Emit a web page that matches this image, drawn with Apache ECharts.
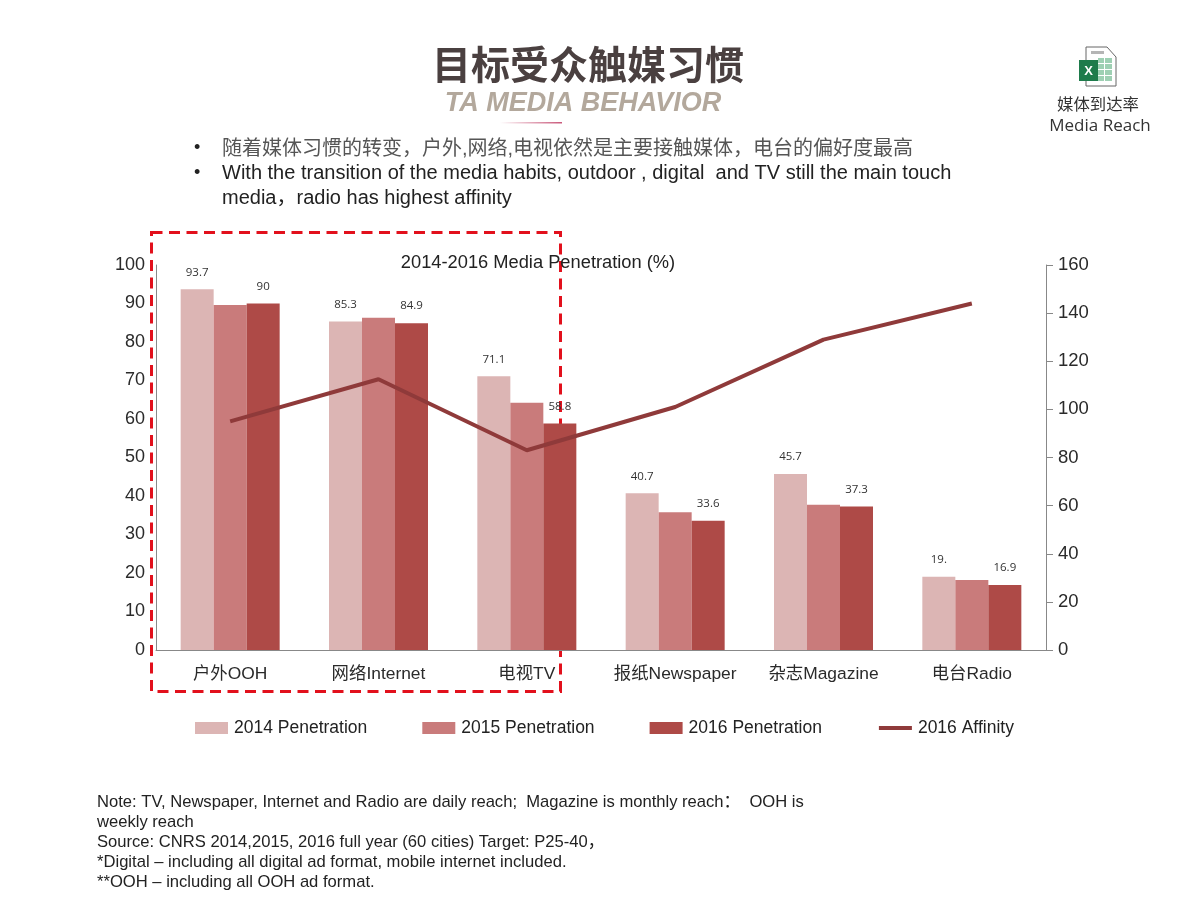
<!DOCTYPE html>
<html>
<head>
<meta charset="utf-8">
<title>TA Media Behavior</title>
<style>
  html, body { margin: 0; padding: 0; background: #fff; }
  #main { width: 1200px; height: 900px; }
</style>
<script src="https://cdn.jsdelivr.net/npm/echarts@6/dist/echarts.min.js"></script>
</head>
<body>
<div id="main"></div>
<script>
var categories = ['户外OOH', '网络Internet', '电视TV', '报纸Newspaper', '杂志Magazine', '电台Radio'];
var penetration2014 = [93.7, 85.3, 71.1, 40.7, 45.7, 19];
var penetration2015 = [89.6, 86.3, 64.2, 35.8, 37.7, 18.2];
var penetration2016 = [90, 84.9, 58.8, 33.6, 37.3, 16.9];
var affinity2016 = [95, 112.5, 83, 101, 129, 144];
var labels2014 = ['93.7', '85.3', '71.1', '40.7', '45.7', '19.'];
var labels2016 = ['90', '84.9', '58.8', '33.6', '37.3', '16.9'];

var noteLines = [
  'Note: TV, Newspaper, Internet and Radio are daily reach;  Magazine is monthly reach：  OOH is',
  'weekly reach',
  'Source: CNRS 2014,2015, 2016 full year (60 cities) Target: P25-40，',
  '*Digital – including all digital ad format, mobile internet included.',
  '**OOH – including all OOH ad format.'
];

var latin = '"Liberation Sans", Arial, sans-serif';
var mixed = '"Liberation Sans", "Noto Sans CJK SC", sans-serif';
var cjk = '"Noto Sans CJK SC", sans-serif';

function txt(x, y, text, font, size, color, extra) {
  var style = {
    x: x, y: y, text: text, fontFamily: font, fontSize: size, fill: color,
    textVerticalAlign: 'middle', textAlign: 'left'
  };
  for (var k in extra) style[k] = extra[k];
  return { type: 'text', z: 5, style: style };
}

// slide furniture around the chart
var graphics = [
  txt(588, 64, '目标受众触媒习惯', cjk, 39, '#4a4040', { textAlign: 'center', fontWeight: 'bold' }),
  txt(583, 104, 'TA MEDIA BEHAVIOR', latin, 27, '#b3a89c', { textAlign: 'center', fontWeight: 'bold', fontStyle: 'italic' }),
  {
    type: 'rect', z: 1, shape: { x: 500, y: 122, width: 62, height: 1.5 },
    style: { fill: new echarts.graphic.LinearGradient(0, 0, 1, 0, [
      { offset: 0, color: '#ffffff' }, { offset: 1, color: '#c9587a' }
    ]) }
  },
  txt(194, 148, '•', latin, 18, '#222'),
  txt(222, 149, '随着媒体习惯的转变，户外,网络,电视依然是主要接触媒体，电台的偏好度最高', mixed, 20, '#555'),
  txt(194, 173, '•', latin, 18, '#222'),
  txt(222, 173, 'With the transition of the media habits, outdoor , digital  and TV still the main touch', latin, 20, '#222'),
  txt(222, 198, 'media，radio has highest affinity', mixed, 20, '#222'),
  {
    type: 'rect', z: 0, shape: { x: 151.5, y: 232.5, width: 409, height: 459 },
    style: { fill: 'none', stroke: '#e2101c', lineWidth: 3, lineDash: [11, 6.5] }
  },
  // excel icon
  { type: 'polygon', z: 3, shape: { points: [[1086, 47], [1107, 47], [1116, 57], [1116, 86], [1086, 86]] }, style: { fill: '#fff', stroke: '#666', lineWidth: 1 } },
  { type: 'rect', z: 3, shape: { x: 1091, y: 51, width: 13, height: 3 }, style: { fill: '#b5b5b5' } },
  { type: 'rect', z: 3, shape: { x: 1098, y: 58, width: 14, height: 23 }, style: { fill: '#9ed0b3' } },
  { type: 'rect', z: 3, shape: { x: 1104, y: 58, width: 1, height: 23 }, style: { fill: '#fff' } },
  { type: 'rect', z: 3, shape: { x: 1098, y: 63, width: 14, height: 1 }, style: { fill: '#fff' } },
  { type: 'rect', z: 3, shape: { x: 1098, y: 69, width: 14, height: 1 }, style: { fill: '#fff' } },
  { type: 'rect', z: 3, shape: { x: 1098, y: 75, width: 14, height: 1 }, style: { fill: '#fff' } },
  { type: 'rect', z: 3, shape: { x: 1079, y: 60, width: 19, height: 21 }, style: { fill: '#1e7b4b' } },
  txt(1088.5, 71, 'X', latin, 13, '#fff', { textAlign: 'center', fontWeight: 'bold' }),
  txt(1098, 104, '媒体到达率', cjk, 16.4, '#333', { textAlign: 'center' }),
  txt(1100, 126, 'Media Reach', '"Open Sans", sans-serif', 17, '#333', { textAlign: 'center' })
];
noteLines.forEach(function (line, i) {
  graphics.push(txt(97, 802 + i * 20, line, mixed, 16.6, '#222'));
});

var chart = echarts.init(document.getElementById('main'));

function barLabel(list) {
  return {
    show: true, position: 'top', distance: 11,
    fontFamily: '"Open Sans", sans-serif', fontSize: 11.5, color: '#333',
    formatter: function (p) { return list[p.dataIndex]; }
  };
}

var option = {
  animation: false,
  backgroundColor: '#fff',
  title: {
    text: '2014-2016 Media Penetration (%)',
    left: 533, top: 249, textAlign: 'center',
    textStyle: { fontFamily: latin, fontSize: 18.3, fontWeight: 'normal', color: '#222' }
  },
  legend: {
    left: 190, top: 714, itemWidth: 33, itemHeight: 12, itemGap: 55,
    textStyle: { fontFamily: latin, fontSize: 17.5, color: '#222', padding: [0, 0, 0, 1] },
    data: [
      { name: '2014 Penetration', icon: 'rect' },
      { name: '2015 Penetration', icon: 'rect' },
      { name: '2016 Penetration', icon: 'rect' },
      { name: '2016 Affinity', itemStyle: { opacity: 0 }, lineStyle: { width: 4 } }
    ]
  },
  grid: { left: 156, top: 265, width: 890, height: 385 },
  xAxis: {
    type: 'category', data: categories,
    axisLine: { lineStyle: { color: '#888', width: 1 } },
    axisTick: { show: false },
    axisLabel: { margin: 16, fontFamily: mixed, fontSize: 17.4, color: '#2a2a2a', interval: 0 }
  },
  yAxis: [
    {
      type: 'value', min: 0, max: 100, interval: 10,
      axisLine: { show: true, lineStyle: { color: '#888', width: 1 } },
      axisTick: { show: false }, splitLine: { show: false },
      axisLabel: { margin: 11, fontFamily: latin, fontSize: 18, color: '#2a2a2a' }
    },
    {
      type: 'value', min: 0, max: 160, interval: 20, position: 'right',
      axisLine: { show: true, lineStyle: { color: '#888', width: 1 } },
      axisTick: { show: true, length: 7, lineStyle: { color: '#888' } }, splitLine: { show: false },
      axisLabel: { margin: 12, fontFamily: latin, fontSize: 18.5, color: '#2a2a2a' }
    }
  ],
  series: [
    { name: '2014 Penetration', type: 'bar', barWidth: 33, barGap: 0, data: penetration2014,
      itemStyle: { color: '#dcb5b4' }, label: barLabel(labels2014) },
    { name: '2015 Penetration', type: 'bar', barWidth: 33, barGap: 0, data: penetration2015,
      itemStyle: { color: '#c97b7b' } },
    { name: '2016 Penetration', type: 'bar', barWidth: 33, barGap: 0, data: penetration2016,
      itemStyle: { color: '#ae4a47' }, label: barLabel(labels2016) },
    { name: '2016 Affinity', type: 'line', yAxisIndex: 1, data: affinity2016, symbol: 'none', z: 4,
      lineStyle: { color: '#8f3a3a', width: 4 }, itemStyle: { color: '#8f3a3a' } }
  ],
  graphic: { elements: graphics }
};

chart.setOption(option);
</script>
</body>
</html>
